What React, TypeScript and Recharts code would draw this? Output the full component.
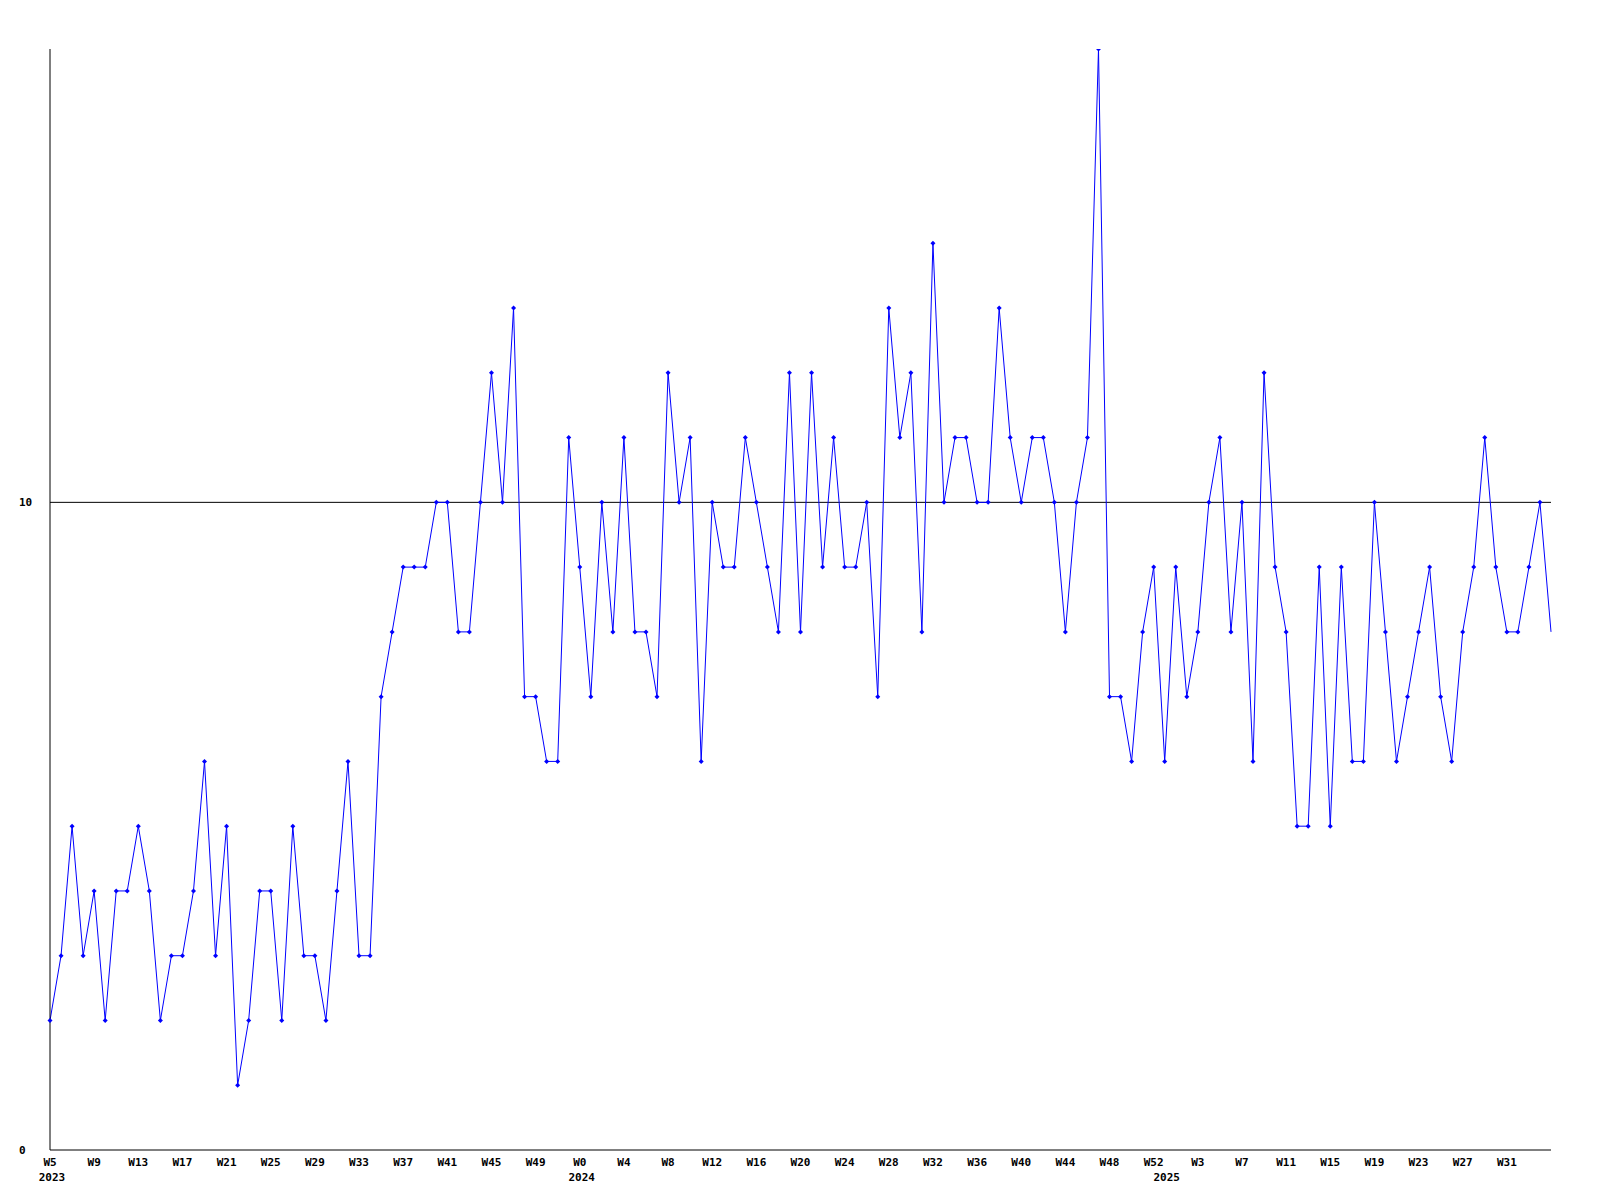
import React from "react";
import { LineChart, Line, XAxis, YAxis, ReferenceLine } from "recharts";

// Weekly counts, 2023 W5 .. 2025 W35
const weekRanges = [
  { year: 2023, first: 5, last: 52 },
  { year: 2024, first: 0, last: 52 },
  { year: 2025, first: 0, last: 35 },
];

const values = [
  2, 3, 5, 3, 4, 2, 4, 4, 5, 4, 2, 3, 3, 4, 6, 3, 5,
  1, 2, 4, 4, 2, 5, 3, 3, 2, 4, 6, 3, 3, 7, 8, 9, 9, 9,
  10, 10, 8, 8, 10, 12, 10, 13, 7, 7, 6, 6, 11, 9, 7, 10, 8,
  11, 8, 8, 7, 12, 10, 11, 6, 10, 9, 9, 11, 10, 9, 8, 12, 8,
  12, 9, 11, 9, 9, 10, 7, 13, 11, 12, 8, 14, 10, 11, 11, 10, 10, 13,
  11, 10, 11, 11, 10, 8, 10, 11, 17, 7, 7, 6, 8, 9, 6, 9, 7,
  8, 10, 11, 8, 10, 6, 12, 9, 8, 5, 5, 9, 5, 9, 6, 6, 10,
  8, 6, 7, 8, 9, 7, 6, 8, 9, 11, 9, 8, 8, 9, 10, 8,
];

const yTicks = [0, 10];
const yDomain = [0, 17];
const referenceValue = 10;

type Cat = { key: string; year: number; week: number; firstOfYear: boolean };
const categories: Cat[] = [];
weekRanges.forEach((r) => {
  for (let w = r.first; w <= r.last; w++) {
    categories.push({ key: `${r.year}-W${w}`, year: r.year, week: w, firstOfYear: w === r.first });
  }
});

const data = values.map((v, i) => ({ cat: categories[i].key, value: v }));

const FONT = "'DejaVu Sans Mono', monospace";
const BLUE = "#0000ff";

const XTick = (props: any) => {
  const { x, payload } = props;
  const idx = categories.findIndex((c) => c.key === payload.value);
  if (idx < 0) return null;
  const c = categories[idx];
  const showWeek = idx % 4 === 0 && idx < categories.length - 2;
  return (
    <g>
      {showWeek && (
        <text x={x} y={1166} textAnchor="middle" fontFamily={FONT} fontSize={11} fontWeight="bold" fill="#000">
          {`W${c.week}`}
        </text>
      )}
      {c.firstOfYear && (
        <text x={x + 2} y={1181} textAnchor="middle" fontFamily={FONT} fontSize={11} fontWeight="bold" fill="#000">
          {c.year}
        </text>
      )}
    </g>
  );
};

const YTick = (props: any) => {
  const { y, payload } = props;
  return (
    <text x={19} y={y + 4} textAnchor="start" fontFamily={FONT} fontSize={11} fontWeight="bold" fill="#000">
      {payload.value}
    </text>
  );
};

const Marker = (props: any) => {
  const { cx, cy, index } = props;
  if (cx == null || cy == null) return null;
  if (index === values.length - 1) return <g />;
  return (
    <g>
      <path d={`M${cx - 2.5},${cy} L${cx},${cy - 2.5} L${cx + 2.5},${cy} L${cx},${cy + 2.5} Z`} fill={BLUE} stroke="none" />
    </g>
  );
};

export default function App() {
  return (
    <div style={{ position: "absolute", left: 0, top: 0, width: 1600, height: 1200, background: "#fff" }}>
      <LineChart width={1600} height={1200} data={data} margin={{ top: 49, right: 49, left: 0, bottom: 0 }}>
        <XAxis
          dataKey="cat"
          height={50}
          interval={0}
          tickLine={false}
          axisLine={{ stroke: "#000", strokeWidth: 1 }}
          tick={<XTick />}
        />
        <YAxis
          width={50}
          domain={yDomain}
          ticks={yTicks}
          tickLine={false}
          axisLine={{ stroke: "#000", strokeWidth: 1 }}
          tick={<YTick />}
          allowDataOverflow
        />
        <ReferenceLine y={referenceValue} stroke="#000" strokeWidth={1} />
        <Line
          type="linear"
          dataKey="value"
          stroke={BLUE}
          strokeWidth={1}
          dot={<Marker />}
          activeDot={false}
          isAnimationActive={false}
        />
      </LineChart>
    </div>
  );
}
